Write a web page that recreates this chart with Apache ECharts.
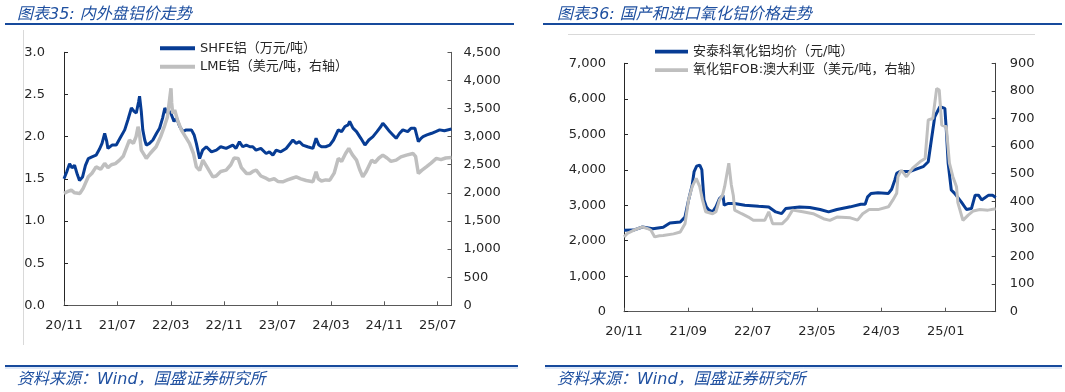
<!DOCTYPE html>
<html><head><meta charset="utf-8">
<script src="https://cdn.jsdelivr.net/npm/echarts@6/dist/echarts.min.js"></script>
<style>html,body{margin:0;padding:0;background:#fff}#c{width:1065px;height:392px}</style>
</head><body><div id="c"></div><script>
// ---- Chart 35: 内外盘铝价走势 ----
const shfeName = 'SHFE铝（万元/吨）';
const lmeName = 'LME铝（美元/吨，右轴）';
const shfeDates = ['2020-11-01','2020-11-13','2020-11-26','2020-12-07','2020-12-19','2021-01-01','2021-01-11','2021-01-25','2021-02-07','2021-02-19','2021-03-07','2021-03-26','2021-04-10','2021-04-22','2021-05-04','2021-05-13','2021-05-19','2021-06-07','2021-06-26','2021-07-13','2021-08-04','2021-08-19','2021-09-04','2021-09-16','2021-09-26','2021-10-07','2021-10-11','2021-10-19','2021-10-26','2021-11-04','2021-11-11','2021-11-25','2021-12-11','2021-12-28','2022-01-11','2022-01-25','2022-02-04','2022-02-13','2022-02-25','2022-03-04','2022-03-16','2022-03-28','2022-04-11','2022-04-25','2022-05-11','2022-06-04','2022-06-16','2022-06-26','2022-07-11','2022-07-25','2022-08-11','2022-09-04','2022-09-26','2022-10-16','2022-11-10','2022-12-10','2022-12-25','2023-01-10','2023-01-25','2023-02-10','2023-02-25','2023-03-10','2023-03-25','2023-04-16','2023-05-10','2023-05-25','2023-06-10','2023-06-25','2023-07-16','2023-08-10','2023-09-10','2023-09-25','2023-10-10','2023-10-25','2023-11-16','2023-12-10','2023-12-25','2024-01-07','2024-01-19','2024-02-07','2024-02-25','2024-03-13','2024-04-04','2024-04-19','2024-05-04','2024-05-19','2024-05-26','2024-06-10','2024-06-26','2024-07-16','2024-08-04','2024-08-22','2024-09-10','2024-09-28','2024-10-16','2024-10-25','2024-11-07','2024-11-25','2024-12-10','2024-12-25','2025-01-10','2025-01-25','2025-02-15','2025-03-01','2025-03-19','2025-04-04','2025-04-16','2025-04-25','2025-05-13','2025-06-04','2025-06-22','2025-07-10','2025-08-01','2025-09-03'];
const shfeValues = [1.50,1.58,1.68,1.63,1.66,1.55,1.48,1.52,1.66,1.74,1.76,1.78,1.85,1.92,2.04,1.95,1.86,1.90,1.90,1.98,2.08,2.20,2.34,2.30,2.28,2.42,2.48,2.30,2.08,1.96,1.90,1.92,1.96,2.04,2.10,2.22,2.34,2.28,2.30,2.26,2.18,2.22,2.12,2.06,2.08,2.08,2.02,1.92,1.74,1.84,1.88,1.82,1.84,1.88,1.86,1.90,1.86,1.94,1.88,1.90,1.88,1.88,1.84,1.86,1.80,1.82,1.78,1.84,1.82,1.86,1.96,1.92,1.94,1.90,1.88,1.86,1.98,1.90,1.88,1.88,1.90,1.96,2.08,2.06,2.12,2.14,2.18,2.10,2.06,1.98,1.90,1.96,2.00,2.06,2.12,2.16,2.12,2.06,2.02,1.98,2.04,2.08,2.06,2.10,2.10,1.94,1.98,2.00,2.02,2.04,2.06,2.08,2.07,2.09];
const lmeDates = ['2020-11-01','2020-11-16','2020-12-04','2020-12-19','2021-01-13','2021-01-28','2021-02-19','2021-03-07','2021-03-26','2021-04-16','2021-05-04','2021-05-19','2021-06-04','2021-06-22','2021-07-11','2021-07-28','2021-08-26','2021-09-13','2021-09-25','2021-10-04','2021-10-11','2021-10-19','2021-11-01','2021-11-11','2021-11-28','2021-12-26','2022-01-16','2022-02-04','2022-02-15','2022-03-02','2022-03-05','2022-03-10','2022-03-19','2022-04-01','2022-04-19','2022-05-07','2022-05-26','2022-06-13','2022-06-26','2022-07-11','2022-07-26','2022-08-16','2022-09-10','2022-09-25','2022-10-16','2022-11-10','2022-12-01','2022-12-16','2023-01-04','2023-01-19','2023-02-11','2023-02-25','2023-03-10','2023-03-26','2023-04-16','2023-05-11','2023-05-25','2023-06-16','2023-07-04','2023-07-25','2023-08-16','2023-09-07','2023-09-25','2023-10-16','2023-11-10','2023-12-10','2023-12-25','2024-01-04','2024-01-19','2024-02-07','2024-02-25','2024-03-16','2024-04-04','2024-04-19','2024-05-07','2024-05-22','2024-06-07','2024-06-26','2024-07-10','2024-07-25','2024-08-10','2024-09-04','2024-09-19','2024-10-07','2024-10-25','2024-11-13','2024-12-01','2024-12-25','2025-01-16','2025-02-10','2025-03-10','2025-03-22','2025-04-04','2025-04-19','2025-05-10','2025-06-01','2025-06-25','2025-07-16','2025-08-07','2025-09-03'];
const lmeValues = [1990,2020,2050,2000,1990,2080,2285,2350,2463,2420,2524,2450,2500,2520,2582,2650,2939,2880,3000,3176,3050,2760,2680,2613,2700,2820,3000,3206,3350,3860,3600,3414,3473,3300,3117,3000,2880,2700,2463,2400,2582,2450,2285,2300,2380,2404,2500,2620,2613,2450,2344,2345,2380,2404,2300,2256,2226,2250,2200,2197,2230,2260,2285,2250,2220,2197,2374,2250,2210,2230,2226,2350,2613,2560,2700,2790,2680,2582,2420,2285,2380,2582,2540,2620,2671,2620,2560,2582,2640,2671,2700,2650,2345,2400,2463,2530,2613,2590,2620,2630];

// ---- Chart 36: 国产和进口氧化铝价格走势 ----
const atkName = '安泰科氧化铝均价（元/吨）';
const fobName = '氧化铝FOB:澳大利亚（美元/吨，右轴）';
const atkDates = ['2020-11-01','2020-12-16','2021-01-28','2021-03-16','2021-05-04','2021-06-05','2021-07-24','2021-08-16','2021-09-02','2021-09-19','2021-09-28','2021-10-10','2021-10-25','2021-11-04','2021-11-14','2021-11-25','2021-12-08','2021-12-25','2022-01-10','2022-01-27','2022-02-12','2022-02-17','2022-03-06','2022-04-07','2022-05-25','2022-07-30','2022-09-16','2022-10-19','2022-11-16','2022-12-05','2023-02-09','2023-03-28','2023-05-16','2023-06-25','2023-08-04','2023-10-07','2023-11-25','2023-12-16','2023-12-28','2024-01-13','2024-02-15','2024-04-04','2024-04-19','2024-05-04','2024-05-13','2024-05-28','2024-07-13','2024-09-16','2024-10-10','2024-10-25','2024-11-10','2024-12-04','2024-12-28','2025-01-04','2025-01-13','2025-01-28','2025-02-12','2025-03-14','2025-04-08','2025-05-01','2025-05-19','2025-06-04','2025-06-19','2025-07-22','2025-08-10','2025-08-25'];
const atkValues = [2294,2300,2387,2340,2380,2500,2528,2671,3146,3570,3950,4100,4133,4000,3147,2950,2860,2812,2958,3190,3280,3000,3049,3049,3000,2970,2950,2812,2765,2906,2950,2935,2880,2812,2880,2955,3030,3030,3237,3333,3350,3333,3450,3711,3900,3950,3950,4086,4227,4838,5495,5776,5730,5120,4180,3429,3333,3096,2880,2906,3285,3285,3148,3285,3280,3220];
const fobDates = ['2020-11-01','2020-11-19','2020-12-16','2021-01-28','2021-02-23','2021-03-07','2021-03-25','2021-04-16','2021-05-04','2021-06-22','2021-07-24','2021-08-16','2021-09-02','2021-09-19','2021-10-08','2021-10-25','2021-11-07','2021-11-22','2021-12-25','2022-01-10','2022-01-27','2022-02-09','2022-02-19','2022-03-10','2022-03-22','2022-04-01','2022-04-07','2022-05-10','2022-06-11','2022-07-04','2022-08-28','2022-09-16','2022-10-04','2022-11-19','2022-12-13','2023-01-07','2023-02-23','2023-04-13','2023-06-01','2023-07-01','2023-08-04','2023-10-07','2023-11-10','2023-12-04','2024-01-04','2024-02-15','2024-04-04','2024-04-25','2024-05-13','2024-05-19','2024-06-04','2024-06-28','2024-07-28','2024-09-01','2024-09-25','2024-10-10','2024-11-01','2024-11-19','2024-12-01','2024-12-13','2025-01-04','2025-01-19','2025-02-04','2025-02-20','2025-02-26','2025-03-22','2025-04-16','2025-05-10','2025-06-10','2025-07-19','2025-08-25'];
const fobValues = [271,285,295,307,300,295,271,275,276,282,289,319,405,453,483,453,405,362,355,362,405,420,453,538,460,420,368,355,343,331,331,362,319,319,337,368,362,355,337,331,343,340,332,355,370,370,380,405,429,489,513,489,520,543,555,695,700,809,803,676,670,538,490,453,395,331,350,365,370,368,373];

const leftYTicks = {min:0, max:3, interval:0.5};
const leftY2Ticks = {min:0, max:4500, interval:500};
const rightYTicks = {min:0, max:7000, interval:1000};
const rightY2Ticks = {min:0, max:900, interval:100};
const leftXInterval = 8;   // months
const rightXInterval = 10; // months

// months since 2020-11-01
function toM(s){
  const [y,mo,d] = s.split('-').map(Number);
  const dim = new Date(y, mo, 0).getDate();
  return (y-2020)*12 + (mo-11) + (d-1)/dim;
}
function pairs(dates, vals){ return dates.map((d,i)=>[toM(d), vals[i]]); }
function monthLabel(step){
  return function(v){
    const r = Math.round(v);
    if (Math.abs(v - r) > 1e-6 || r % step !== 0) return '';
    const t = 10 + r;
    const y = 2020 + Math.floor(t/12);
    const m = t % 12 + 1;
    return String(y).slice(2) + '/' + (m<10?'0':'') + m;
  };
}
const fmtThousands = v => v.toLocaleString('en-US');

const FONT = '"DejaVu Sans","Noto Sans CJK SC",sans-serif';
const BLUE = '#073C94';
const GRAY = '#BFBFBF';
const TEXT = '#262626';
const TITLE = '#1F50A0';
const LEGEND_ICON = 'path://M0,0H36V4H0Z';

const leftMax = Math.max(toM(shfeDates[shfeDates.length-1]), toM(lmeDates[lmeDates.length-1]));
const rightMax = Math.max(toM(atkDates[atkDates.length-1]), toM(fobDates[fobDates.length-1]));

function xAxis(gi, max, step, margin){
  return {gridIndex:gi, type:'value', min:0, max:max, interval:step,
    axisLine:{show:true, lineStyle:{color:'#595959', width:1}},
    axisTick:{show:true, inside:true, length:4, lineStyle:{color:'#595959'}},
    splitLine:{show:false},
    axisLabel:{formatter:monthLabel(step), margin:margin, fontSize:13, color:TEXT, fontFamily:FONT, showMaxLabel:false}};
}
function yAxis(gi, pos, t, fmt, margin, color){
  return {gridIndex:gi, type:'value', position:pos, min:t.min, max:t.max, interval:t.interval,
    axisLine:{show:true, lineStyle:{color:color, width:1}},
    axisTick:{show:true, inside:true, length:4, lineStyle:{color:color}},
    splitLine:{show:false},
    axisLabel:{formatter:fmt, margin:margin, fontSize:13, color:TEXT, fontFamily:FONT}};
}

const chart = echarts.init(document.getElementById('c'), null, {renderer:'canvas'});
chart.setOption({
  animation:false,
  backgroundColor:'#fff',
  grid:[
    {left:64, top:52.3, width:387.5, height:253},
    {left:624, top:63.3, width:371.7, height:248.4}
  ],
  xAxis:[ xAxis(0, leftMax, leftXInterval, 14), xAxis(1, rightMax, rightXInterval, 13) ],
  yAxis:[
    yAxis(0,'left', leftYTicks, v=>v.toFixed(1), 19, '#262626'),
    yAxis(0,'right', leftY2Ticks, fmtThousands, 12, '#595959'),
    yAxis(1,'left', rightYTicks, fmtThousands, 18, '#262626'),
    yAxis(1,'right', rightY2Ticks, fmtThousands, 14, '#404040')
  ],
  legend:[
    {data:[shfeName, lmeName], orient:'vertical', left:155, top:36.3, itemWidth:35, itemHeight:14, itemGap:4.4,
     icon:LEGEND_ICON, textStyle:{fontSize:13, color:TEXT, fontFamily:FONT, lineHeight:14}},
    {data:[atkName, fobName], orient:'vertical', left:650, top:39.7, itemWidth:33, itemHeight:14, itemGap:4.4,
     icon:LEGEND_ICON, textStyle:{fontSize:13, color:TEXT, fontFamily:FONT, lineHeight:14}}
  ],
  series:[
    {name:shfeName, type:'line', xAxisIndex:0, yAxisIndex:0, data:pairs(shfeDates, shfeValues), symbol:'none', lineStyle:{color:BLUE, width:3}, itemStyle:{color:BLUE}},
    {name:lmeName, type:'line', xAxisIndex:0, yAxisIndex:1, data:pairs(lmeDates, lmeValues), symbol:'none', lineStyle:{color:GRAY, width:3.5}, itemStyle:{color:GRAY}},
    {name:atkName, type:'line', xAxisIndex:1, yAxisIndex:2, data:pairs(atkDates, atkValues), symbol:'none', lineStyle:{color:BLUE, width:3}, itemStyle:{color:BLUE}},
    {name:fobName, type:'line', xAxisIndex:1, yAxisIndex:3, data:pairs(fobDates, fobValues), symbol:'none', lineStyle:{color:GRAY, width:3}, itemStyle:{color:GRAY}}
  ],
  graphic:[
    {type:'text', style:{x:17, y:14.5, text:'图表35: 内外盘铝价走势', font:'italic 16px '+FONT, fill:TITLE, verticalAlign:'middle'}},
    {type:'text', style:{x:557, y:14.5, text:'图表36: 国产和进口氧化铝价格走势', font:'italic 16px '+FONT, fill:TITLE, verticalAlign:'middle'}},
    {type:'line', shape:{x1:5, y1:24, x2:514, y2:24}, style:{stroke:'#174A9C', lineWidth:2}},
    {type:'line', shape:{x1:543, y1:24, x2:1062, y2:24}, style:{stroke:'#174A9C', lineWidth:2}},
    {type:'line', shape:{x1:23.5, y1:30, x2:23.5, y2:345}, style:{stroke:'#D9D9D9', lineWidth:1}},
    {type:'line', shape:{x1:568, y1:34.5, x2:1035, y2:34.5}, style:{stroke:'#D9D9D9', lineWidth:1}},
    {type:'line', shape:{x1:5, y1:366, x2:518, y2:366}, style:{stroke:'#174A9C', lineWidth:2}},
    {type:'line', shape:{x1:5, y1:368, x2:518, y2:368}, style:{stroke:'#BDD0EE', lineWidth:1}},
    {type:'line', shape:{x1:545, y1:366, x2:1062, y2:366}, style:{stroke:'#174A9C', lineWidth:2}},
    {type:'line', shape:{x1:545, y1:368, x2:1062, y2:368}, style:{stroke:'#BDD0EE', lineWidth:1}},
    {type:'text', style:{x:17, y:380, text:'资料来源：Wind，国盛证券研究所', font:'italic 16px '+FONT, fill:TITLE, verticalAlign:'middle'}},
    {type:'text', style:{x:557, y:380, text:'资料来源：Wind，国盛证券研究所', font:'italic 16px '+FONT, fill:TITLE, verticalAlign:'middle'}}
  ]
});
</script></body></html>
